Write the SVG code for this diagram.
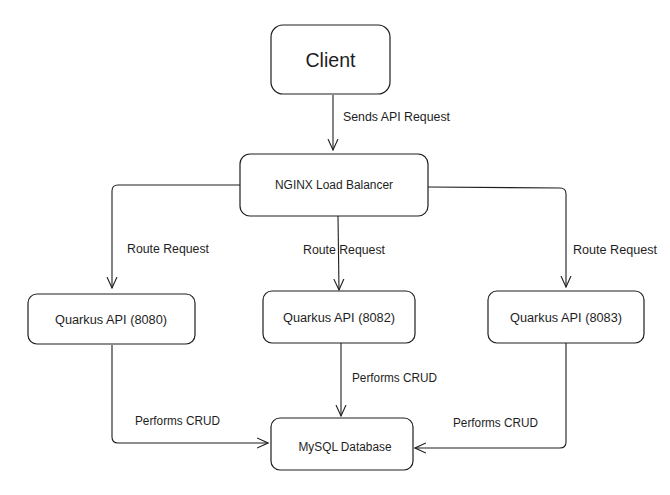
<svg xmlns="http://www.w3.org/2000/svg" width="670" height="495" viewBox="0 0 670 495">
<defs>
<style>
.box{fill:#ffffff;stroke:#1e1e1e;stroke-width:1.2}
.t{font-family:"Liberation Sans",Arial,sans-serif;fill:#1e1e1e;font-size:12px}
.n{text-anchor:middle}
.c{fill:none;stroke:#1e1e1e;stroke-width:1.1;stroke-linejoin:round}
</style>
<marker id="ah" viewBox="0 0 12 12" refX="11" refY="6" markerWidth="12" markerHeight="12" markerUnits="userSpaceOnUse" orient="auto">
<path d="M0,1 L11,6 L0,11" fill="none" stroke="#1e1e1e" stroke-width="1.1"/>
</marker>
</defs>
<rect width="670" height="495" fill="#ffffff"/>
<g id="connectors">
<path class="c" d="M333,95 L333,150" marker-end="url(#ah)"/>
<path class="c" d="M240,185 L118,185 Q112,185 112,191 L112,288" marker-end="url(#ah)"/>
<path class="c" d="M338,216 L339,290" marker-end="url(#ah)"/>
<path class="c" d="M428,187 L560,188 Q566,188 566,194 L566,287" marker-end="url(#ah)"/>
<path class="c" d="M112,345 L112,437 Q112,443 118,443 L268,443" marker-end="url(#ah)"/>
<path class="c" d="M341,343 L341,416" marker-end="url(#ah)"/>
<path class="c" d="M566,343 L566,442 Q566,448 560,448 L415,448" marker-end="url(#ah)"/>
<text class="t" x="343" y="121" textLength="107" lengthAdjust="spacingAndGlyphs">Sends API Request</text>
<text class="t" x="127" y="253" textLength="82" lengthAdjust="spacingAndGlyphs">Route Request</text>
<text class="t" x="303" y="254" textLength="82" lengthAdjust="spacingAndGlyphs">Route Request</text>
<text class="t" x="573" y="254" textLength="84" lengthAdjust="spacingAndGlyphs">Route Request</text>
<text class="t" x="352" y="382" textLength="85" lengthAdjust="spacingAndGlyphs">Performs CRUD</text>
<text class="t" x="135" y="425" textLength="85" lengthAdjust="spacingAndGlyphs">Performs CRUD</text>
<text class="t" x="453" y="427" textLength="85" lengthAdjust="spacingAndGlyphs">Performs CRUD</text>
</g>
<g id="client">
<rect class="box" x="271" y="25" width="119" height="69" rx="12"/>
<text class="t n" x="330.5" y="67" style="font-size:21px" textLength="50" lengthAdjust="spacingAndGlyphs">Client</text>
</g>
<g id="nginx">
<rect class="box" x="240" y="154" width="188" height="62" rx="10"/>
<text class="t n" x="334" y="189" textLength="118" lengthAdjust="spacingAndGlyphs">NGINX Load Balancer</text>
</g>
<g id="q8080">
<rect class="box" x="28" y="294" width="167" height="50" rx="9"/>
<text class="t n" x="111" y="324" textLength="112" lengthAdjust="spacingAndGlyphs">Quarkus API (8080)</text>
</g>
<g id="q8082">
<rect class="box" x="263" y="291" width="152" height="52" rx="9"/>
<text class="t n" x="339" y="322" textLength="112" lengthAdjust="spacingAndGlyphs">Quarkus API (8082)</text>
</g>
<g id="q8083">
<rect class="box" x="488" y="291" width="156" height="52" rx="9"/>
<text class="t n" x="566" y="322" textLength="112" lengthAdjust="spacingAndGlyphs">Quarkus API (8083)</text>
</g>
<g id="mysql">
<rect class="box" x="271" y="418" width="142" height="52" rx="9"/>
<text class="t n" x="345" y="451" textLength="93" lengthAdjust="spacingAndGlyphs">MySQL Database</text>
</g>
</svg>
